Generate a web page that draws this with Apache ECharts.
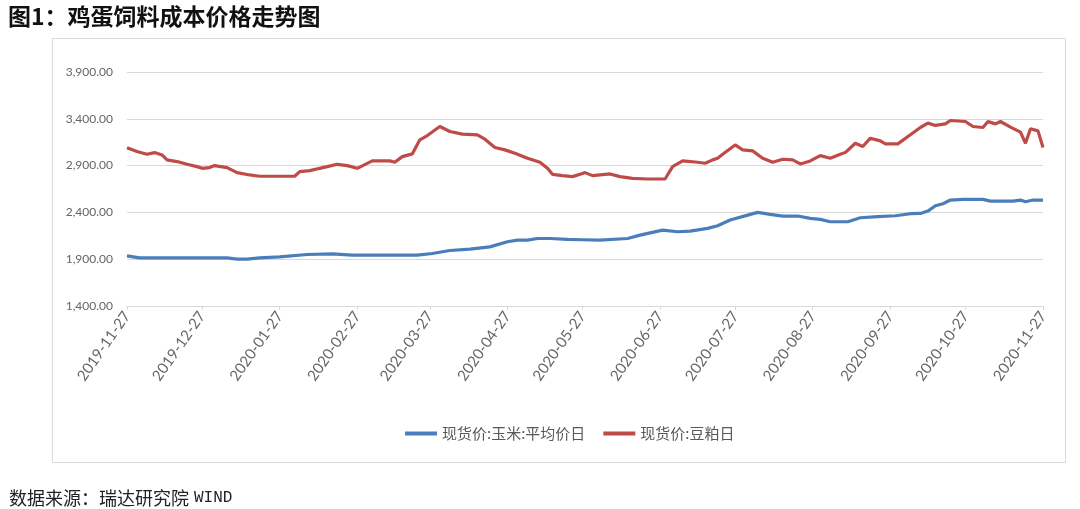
<!DOCTYPE html>
<html><head><meta charset="utf-8">
<script src="https://cdn.jsdelivr.net/npm/echarts@6/dist/echarts.min.js"></script>
<style>html,body{margin:0;padding:0;background:#fff;}#c{width:1080px;height:509px;}</style>
</head><body><div id="c"></div>
<script>
const titleText = '图1：鸡蛋饲料成本价格走势图';
const sourceLabel = '数据来源：瑞达研究院';
const sourceName = 'WIND';
const seriesNames = ['现货价:玉米:平均价日', '现货价:豆粕日'];
const tickLabels = ['2019-11-27','2019-12-27','2020-01-27','2020-02-27','2020-03-27','2020-04-27','2020-05-27','2020-06-27','2020-07-27','2020-08-27','2020-09-27','2020-10-27','2020-11-27'];

const cornDates = ['2019-11-27','2019-12-02','2019-12-14','2020-01-06','2020-01-10','2020-01-14','2020-01-19','2020-01-27','2020-02-07','2020-02-17','2020-02-25','2020-03-22','2020-03-28','2020-04-04','2020-04-12','2020-04-20','2020-04-27','2020-05-01','2020-05-05','2020-05-09','2020-05-14','2020-05-21','2020-05-27','2020-06-03','2020-06-14','2020-06-19','2020-06-28','2020-07-04','2020-07-09','2020-07-16','2020-07-20','2020-07-25','2020-08-01','2020-08-05','2020-08-10','2020-08-15','2020-08-21','2020-08-26','2020-08-30','2020-09-03','2020-09-10','2020-09-15','2020-09-22','2020-09-29','2020-10-05','2020-10-09','2020-10-12','2020-10-15','2020-10-18','2020-10-21','2020-10-26','2020-11-03','2020-11-06','2020-11-15','2020-11-18','2020-11-20','2020-11-23','2020-11-27'];
const cornValues = [1936,1914,1914,1914,1900,1900,1914,1925,1950,1957,1943,1943,1961,1993,2007,2032,2086,2104,2104,2121,2121,2111,2108,2104,2121,2157,2211,2193,2200,2229,2257,2318,2371,2400,2379,2361,2361,2336,2325,2300,2300,2343,2354,2364,2386,2389,2414,2471,2493,2532,2539,2539,2521,2521,2532,2514,2532,2532];

const mealDates = ['2019-11-27','2019-12-01','2019-12-05','2019-12-08','2019-12-11','2019-12-13','2019-12-17','2019-12-21','2019-12-25','2019-12-27','2019-12-30','2020-01-01','2020-01-06','2020-01-10','2020-01-15','2020-01-19','2020-01-26','2020-02-02','2020-02-04','2020-02-08','2020-02-12','2020-02-15','2020-02-19','2020-02-23','2020-02-27','2020-03-04','2020-03-11','2020-03-13','2020-03-16','2020-03-20','2020-03-23','2020-03-26','2020-03-31','2020-04-04','2020-04-09','2020-04-15','2020-04-18','2020-04-22','2020-04-26','2020-04-30','2020-05-05','2020-05-10','2020-05-13','2020-05-15','2020-05-19','2020-05-23','2020-05-27','2020-05-28','2020-05-31','2020-06-07','2020-06-11','2020-06-16','2020-06-22','2020-06-29','2020-07-02','2020-07-06','2020-07-12','2020-07-15','2020-07-18','2020-07-20','2020-07-22','2020-07-27','2020-07-30','2020-08-03','2020-08-07','2020-08-11','2020-08-15','2020-08-19','2020-08-22','2020-08-26','2020-08-30','2020-09-03','2020-09-07','2020-09-09','2020-09-13','2020-09-16','2020-09-19','2020-09-23','2020-09-25','2020-09-30','2020-10-05','2020-10-09','2020-10-12','2020-10-15','2020-10-19','2020-10-21','2020-10-27','2020-10-30','2020-11-03','2020-11-05','2020-11-08','2020-11-10','2020-11-14','2020-11-18','2020-11-20','2020-11-22','2020-11-25','2020-11-27'];
const mealValues = [3090,3050,3021,3039,3014,2961,2943,2914,2889,2871,2879,2900,2879,2825,2800,2786,2786,2786,2836,2846,2871,2889,2914,2900,2871,2950,2950,2936,2996,3025,3175,3221,3318,3264,3236,3229,3182,3093,3068,3032,2979,2936,2871,2807,2793,2782,2815,2825,2793,2811,2782,2764,2757,2757,2889,2950,2936,2925,2961,2979,3021,3121,3068,3057,2979,2936,2968,2961,2918,2950,3007,2979,3021,3039,3139,3104,3193,3164,3132,3132,3229,3307,3354,3329,3346,3382,3371,3318,3307,3371,3346,3371,3311,3257,3139,3293,3271,3093];

// axis categories: every calendar day in the range
const categories = [];
(function(){
  let t = Date.UTC(2019,10,27); const end = Date.UTC(2020,10,27);
  while (t <= end) { categories.push(new Date(t).toISOString().slice(0,10)); t += 86400000; }
})();

const chart = echarts.init(document.getElementById('c'), null, {renderer:'canvas'});
const fmt = v => v.toLocaleString('en-US', {minimumFractionDigits:2, maximumFractionDigits:2});
const isTick = (i, v) => tickLabels.indexOf(v) >= 0;
const fam = 'Lato, "Liberation Sans", sans-serif';

chart.setOption({
  animation:false,
  backgroundColor:'#fff',
  color:['#4A7EBB','#BE4B48'],
  title:[
    {text:titleText, left:3, top:0, textStyle:{fontSize:23, fontWeight:'bold', color:'#111', fontFamily:'"Noto Sans CJK SC", sans-serif'}},
    {text:'{a|' + sourceLabel + '} {b|' + sourceName + '}', left:4, top:484,
     textStyle:{fontWeight:'normal', rich:{
       a:{fontSize:18, fontWeight:'normal', color:'#222', fontFamily:'"Noto Sans CJK SC", sans-serif'},
       b:{fontSize:16, fontWeight:'normal', color:'#222', fontFamily:'"Liberation Mono", monospace'}
     }}}
  ],
  graphic:[
    {type:'rect', shape:{x:52.5, y:38.5, width:1013, height:424}, style:{fill:'none', stroke:'#d9d9d9', lineWidth:1}, silent:true}
  ],
  legend:{
    left:400, top:421, itemWidth:32, itemHeight:4, itemGap:18, icon:'rect',
    textStyle:{color:'#595959', fontSize:15, fontFamily:'"Noto Sans CJK SC", sans-serif'},
    data:seriesNames
  },
  grid:{left:127, right:37, top:72, bottom:203, containLabel:false},
  xAxis:{
    type:'category', data:categories, boundaryGap:false,
    axisLine:{show:true, lineStyle:{color:'#d9d9d9'}},
    axisTick:{show:true, interval:isTick, length:4, lineStyle:{color:'#d9d9d9'}},
    axisLabel:{interval:isTick, rotate:55, margin:7, color:'#666', fontSize:15, fontFamily:fam},
    splitLine:{show:false}
  },
  yAxis:{
    type:'value', min:1400, max:3900, interval:500,
    axisLine:{show:false}, axisTick:{show:false},
    axisLabel:{formatter:fmt, margin:14, color:'#666', fontSize:12, fontFamily:fam},
    splitLine:{lineStyle:{color:'#d9d9d9'}}
  },
  series:[
    {name:seriesNames[0], type:'line', showSymbol:false, data:cornDates.map((d,i)=>[d, cornValues[i]]), lineStyle:{width:3.2}},
    {name:seriesNames[1], type:'line', showSymbol:false, data:mealDates.map((d,i)=>[d, mealValues[i]]), lineStyle:{width:3.2}}
  ]
});
</script></body></html>
